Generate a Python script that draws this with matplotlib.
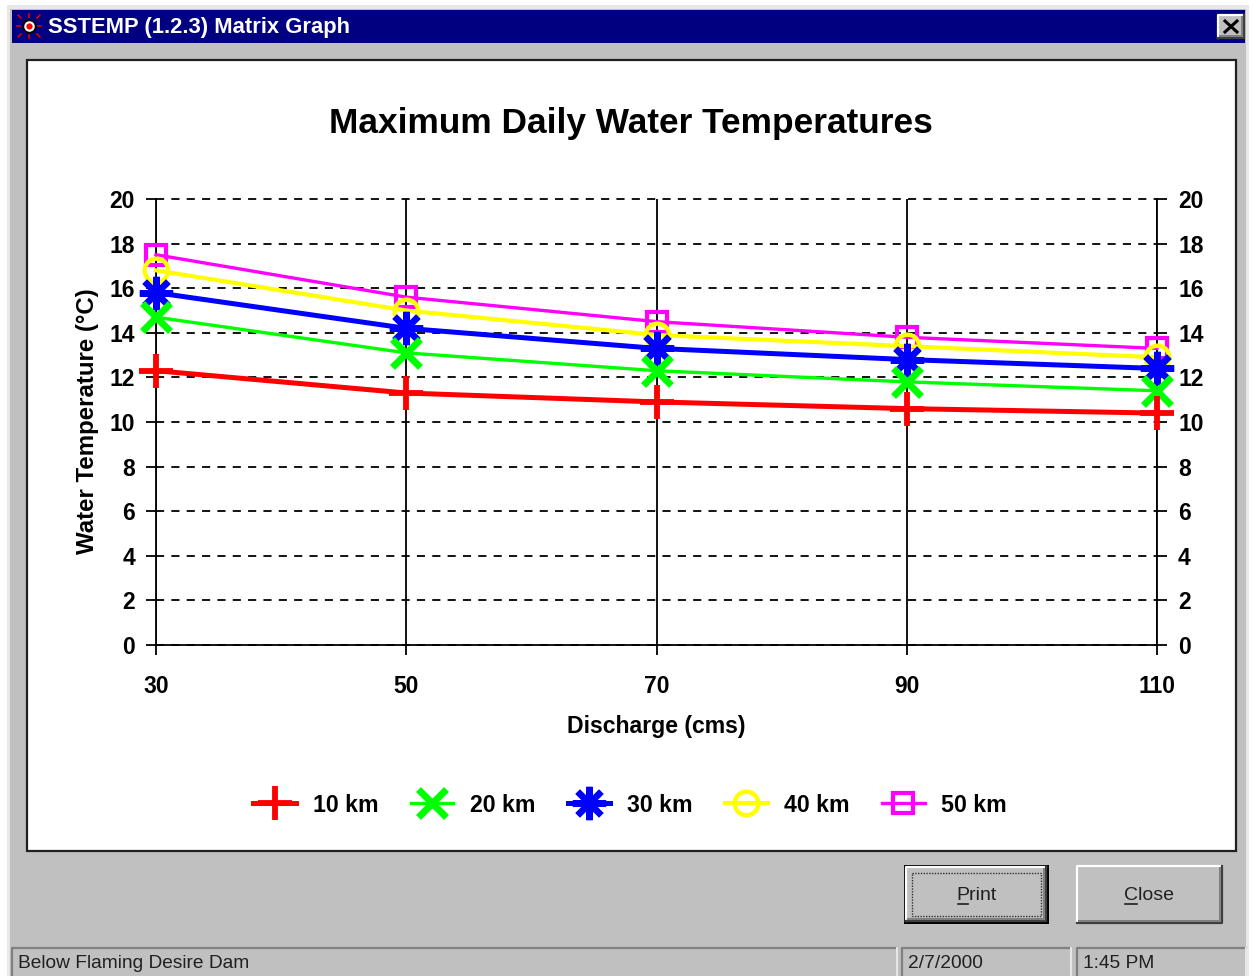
import matplotlib
matplotlib.use("Agg")
import matplotlib.pyplot as plt
from matplotlib.patches import Rectangle

plt.rcParams['font.family'] = ['Liberation Sans', 'DejaVu Sans']

# data
discharge = [30, 50, 70, 90, 110]
temp_10km = [12.3, 11.3, 10.9, 10.6, 10.4]
temp_20km = [14.7, 13.1, 12.3, 11.8, 11.4]
temp_30km = [15.8, 14.2, 13.3, 12.8, 12.4]
temp_40km = [16.8, 15.0, 13.9, 13.4, 12.9]
temp_50km = [17.5, 15.6, 14.5, 13.8, 13.3]
y_ticks = list(range(0, 21, 2))

W, H = 1252, 976
gray = '#c0c0c0'
fig = plt.figure(figsize=(W / 100, H / 100), dpi=100, facecolor='white')

# window chrome, in pixel coordinates
bg = fig.add_axes([0, 0, 1, 1])
bg.set_xlim(0, W)
bg.set_ylim(H, 0)
bg.axis('off')


def box(x0, y0, x1, y1, **kw):
    bg.add_patch(Rectangle((x0, y0), x1 - x0, y1 - y0, **kw))


def raised(x0, y0, x1, y1):
    box(x0, y0, x1, y1, fc=gray, ec='none')
    bg.plot([x0, x0, x1], [y1, y0, y0], color='white', lw=1.6)
    bg.plot([x0, x1, x1], [y1, y1, y0], color='#404040', lw=1.6)
    bg.plot([x0 + 2, x1 - 2, x1 - 2], [y1 - 2, y1 - 2, y0 + 2], color='#808080', lw=1.4)


box(7, 5, 1249, 976, fc='#e8e8e8', ec='none')
box(10, 9, 1246, 976, fc=gray, ec='none')
box(12, 10, 1245, 43, fc='#000080', ec='none')
bg.text(48, 28, 'SSTEMP (1.2.3) Matrix Graph', color='white', fontsize=15.8,
        fontweight='bold', va='center', ha='left')

# titlebar icon
for dx, dy in [(-9, 0), (9, 0), (0, -9), (0, 9), (-8, -8), (8, -8), (8, 8), (-8, 8)]:
    bg.plot([29 + dx, 29 + dx * 1.35], [26 + dy, 26 + dy * 1.35], color='#e00000', lw=1.2)
bg.plot([29], [26], 'o', ms=9, mfc='white', mec='black', mew=1.4)
bg.plot([29], [26], 'o', ms=4.5, mfc='#ff0000', mec='none')

# close box
raised(1218, 15, 1244, 38)
bg.plot([1225, 1237], [21, 32], color='black', lw=2.2)
bg.plot([1225, 1237], [32, 21], color='black', lw=2.2)

# chart panel
box(27, 60, 1236, 851, fc='white', ec='#202020', lw=1.6)

# buttons
box(904, 865, 1049, 924, fc='black', ec='none')
raised(906, 867, 1046, 921)
box(912, 873, 1041, 916, fc='none', ec='#303030', lw=1, ls=(0, (1, 1)))
bg.text(976, 896, 'Print', fontsize=14, color='#202020', ha='center', va='center')
bg.plot([958, 968], [904, 904], color='#202020', lw=1.2)
raised(1077, 866, 1222, 923)
bg.text(1149, 896, 'Close', fontsize=14, color='#202020', ha='center', va='center')
bg.plot([1125, 1137], [904, 904], color='#202020', lw=1.2)

# status bar
for x0, x1, label in [(12, 897, 'Below Flaming Desire Dam'), (902, 1071, '2/7/2000'), (1077, 1246, '1:45 PM')]:
    bg.plot([x0, x0, x1], [975, 948, 948], color='#808080', lw=1.6)
    bg.plot([x1, x1], [948, 975], color='#e8e8e8', lw=1.4)
    bg.text(x0 + 6, 964, label, fontsize=13.8, color='#202020', ha='left', va='center')

# chart itself
ax = fig.add_axes([156 / W, (H - 645) / H, 1001 / W, 446 / H])
ax.set_facecolor('none')
ax.set_xlim(30, 110)
ax.set_ylim(0, 20)

ax.set_xticks(discharge)
ax.set_yticks(y_ticks)
ax.grid(axis='x', color='black', lw=1.3, ls='-')
ax.grid(axis='y', color='black', lw=1.3, ls=(0, (4.5, 4)), clip_on=False)
ax.set_axisbelow(True)
ax.spines['top'].set_visible(False)
for s in ['left', 'right', 'bottom']:
    ax.spines[s].set_linewidth(1.3)
ax.tick_params(axis='y', left=True, right=True, labelleft=True, labelright=True,
               length=7.2, width=1.3, pad=8, labelsize=16.5)
ax.tick_params(axis='x', length=7.2, width=1.3, pad=14.5, labelsize=16.5)
for tick in ax.xaxis.get_major_ticks() + ax.yaxis.get_major_ticks():
    tick.label1.set_fontweight('bold')
    tick.label2.set_fontweight('bold')

# drawn back to front, the 10 km line ends on top
series = [
    ('50 km', temp_50km, '#ff00ff', 's', 14, 2.4, 3.0, 'none'),
    ('40 km', temp_40km, '#ffff00', 'o', 17, 3.0, 3.2, 'none'),
    ('30 km', temp_30km, '#0000ff', (8, 2, 0), 24, 3.6, 4.6, '#0000ff'),
    ('20 km', temp_20km, '#00ff00', 'x', 20.5, 2.4, 5.0, '#00ff00'),
    ('10 km', temp_10km, '#ff0000', '+', 25, 3.6, 4.2, '#ff0000'),
]
handles = {}
for name, vals, col, mk, ms, lw, mew, mfc in series:
    line, = ax.plot(discharge, vals, color=col, lw=lw, marker=mk, ms=ms, mew=mew,
                    mec=col, mfc=mfc, clip_on=False, label=name, zorder=3)
    handles[name] = line

order = ['10 km', '20 km', '30 km', '40 km', '50 km']
fig.legend([handles[n] for n in order], order, ncol=5, frameon=False,
           loc='center', bbox_to_anchor=(630 / W, (H - 805) / H),
           prop={'weight': 'bold', 'size': 16.7}, handlelength=1.85, handletextpad=0.7,
           columnspacing=1.4, numpoints=1)

fig.text(631 / W, (H - 123) / H, 'Maximum Daily Water Temperatures', fontsize=25.4,
         fontweight='bold', ha='center', va='center')
fig.text(656 / W, (H - 727) / H, 'Discharge (cms)', fontsize=16.6, fontweight='bold',
         ha='center', va='center')
fig.text(88 / W, (H - 421) / H, 'Water Temperature (°C)', fontsize=17.3, fontweight='bold',
         rotation=90, ha='center', va='center')

fig.savefig('out.png', dpi=100, facecolor='white')
